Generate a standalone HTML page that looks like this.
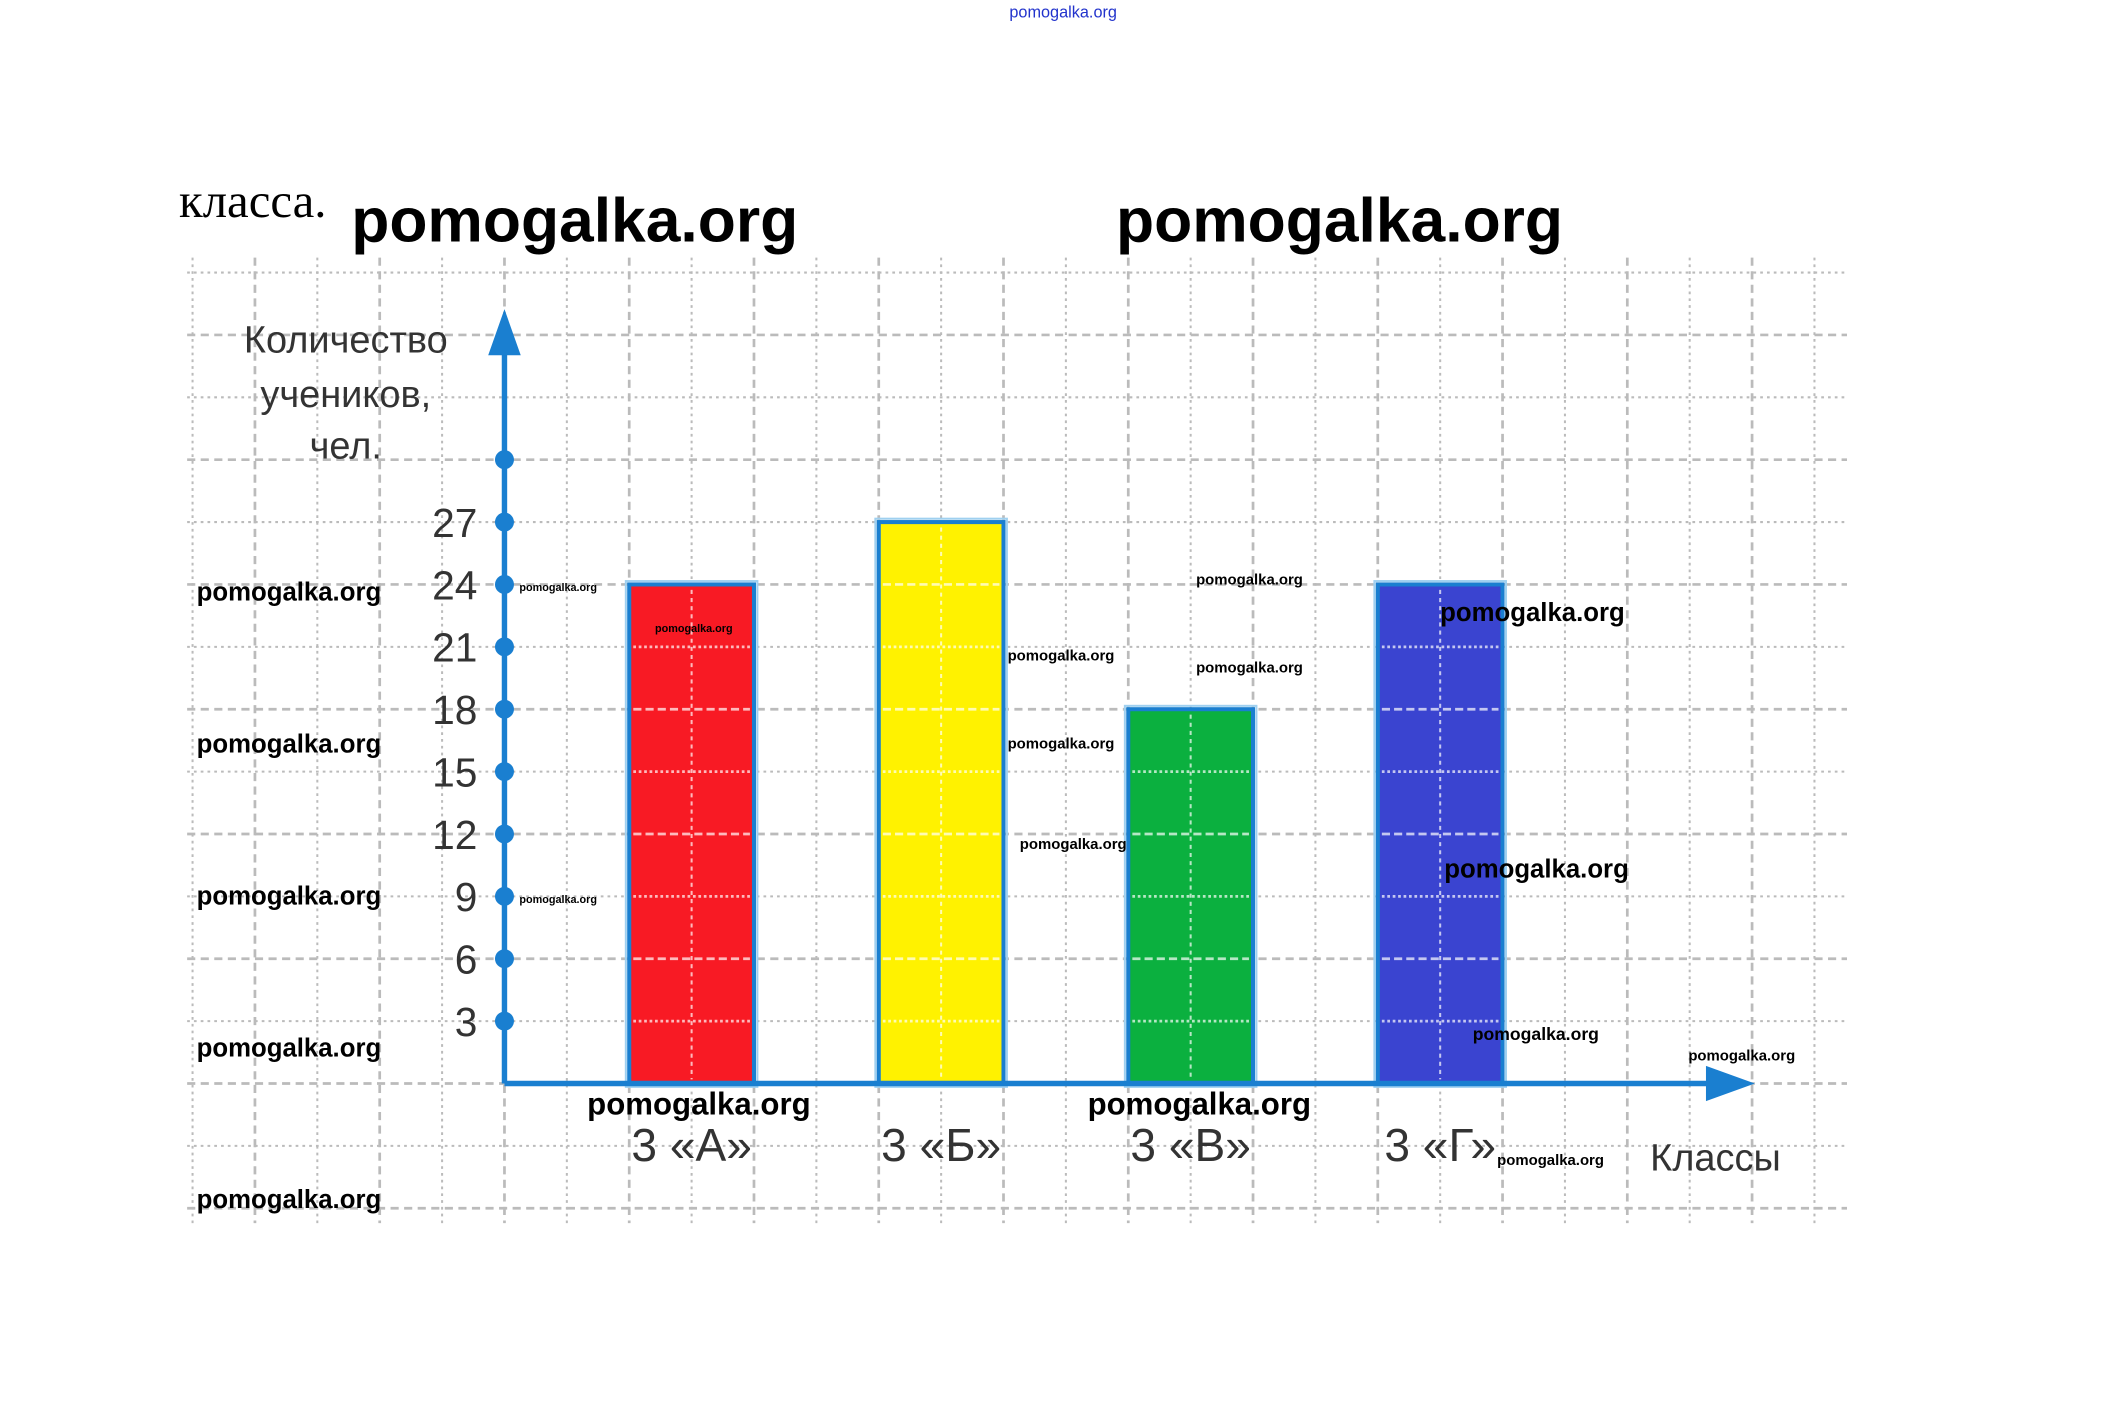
<!DOCTYPE html>
<html><head><meta charset="utf-8"><style>
html,body{margin:0;padding:0;background:#fff;width:2125px;height:1413px;overflow:hidden}
svg{display:block}
.wm{font-family:"Liberation Sans",sans-serif;font-weight:bold;fill:#000}
.lab{font-family:"Liberation Sans","DejaVu Sans",sans-serif;fill:#333}
</style></head><body>
<svg id="chart" width="2125" height="1413" viewBox="0 0 1567 1042" preserveAspectRatio="none" xmlns="http://www.w3.org/2000/svg">
<g id="grid"></g>
<g id="bars"></g>
<g id="axes"></g>
<g id="texts">
<text x="784" y="13" text-anchor="middle" font-size="12" fill="#2233cc" font-family="Liberation Sans,sans-serif">pomogalka.org</text>
<text x="132" y="160" font-size="36" font-family="Liberation Serif,'Noto Serif CJK SC',serif" fill="#000">класса.</text>
<text class="wm" x="259" y="178" font-size="46">pomogalka.org</text>
<text class="wm" x="823" y="178" font-size="46">pomogalka.org</text>
<text class="lab" x="255" y="260" font-size="28" text-anchor="middle">Количество</text>
<text class="lab" x="255" y="300" font-size="28" text-anchor="middle">учеников,</text>
<text class="lab" x="255" y="338" font-size="28" text-anchor="middle">чел.</text>
<text class="lab" x="1265" y="863" font-size="28" text-anchor="middle">Классы</text>
</g>
</svg>
<script>
const categories = ['3 «А»','3 «Б»','3 «В»','3 «Г»'];
const values = [24, 27, 18, 24];
const colors = ['#f81a24','#fff200','#0bb03f','#3a44d0'];
const yTicks = [3,6,9,12,15,18,21,24,27,30];
const yTickLabels = ['3','6','9','12','15','18','21','24','27',''];

const NS='http://www.w3.org/2000/svg';
const X0=372, Y0=799, UNIT=46/3, CELL=46;
function yS(v){return Y0 - v*UNIT;}
function xS(i){return 464 + i*184;}
function mk(tag,attrs,parent){const e=document.createElementNS(NS,tag);for(const k in attrs)e.setAttribute(k,attrs[k]);parent.appendChild(e);return e;}

const grid=document.getElementById('grid');
for(let k=0;k<=26;k++){
  const x=(X0-5*CELL)+k*CELL;
  if(x>1362) break;
  const major=((x-X0)/CELL)%2===0;
  const l=mk('line',{x1:x,y1:190,x2:x,y2:902,stroke:'#bbb','stroke-width':major?2:1.5,'stroke-dasharray':major?'6 4':'2 3'},grid);
  
  
}
for(let k=-2;k<=13;k++){
  const y=Y0-k*CELL;
  const major=k%2===0;
  const l=mk('line',{x1:138,y1:y,x2:1362,y2:y,stroke:'#bbb','stroke-width':major?2:1.5,'stroke-dasharray':major?'6 4':'2 3'},grid);
  
  
}

const bars=document.getElementById('bars');
values.forEach((v,i)=>{
  const x=xS(i), y=yS(v), w=92;
  const r=mk('rect',{x:x,y:y,width:w,height:Y0-y,fill:colors[i],stroke:'#1a7fd0','stroke-width':3},bars);
  
  
  const inner=mk('rect',{x:x-2.5,y:y-2.5,width:w+5,height:Y0-y+5,fill:'none',stroke:'#9fd0f0','stroke-width':1.5},bars);
  
  
  const vl=mk('line',{x1:x+46,y1:y+4,x2:x+46,y2:Y0-3,stroke:'#fff','stroke-opacity':0.7,'stroke-width':1.5,'stroke-dasharray':'3 3'},bars);
  
  
  for(let k=1;k*CELL<Y0-y-4;k++){
    const hl=mk('line',{x1:x+3,y1:Y0-k*CELL,x2:x+w-3,y2:Y0-k*CELL,stroke:'#fff','stroke-opacity':0.7,'stroke-width':2,'stroke-dasharray':k%2===0?'6 3':'2 2'},bars);
    
    
  }
  const t=mk('text',{x:x+46,y:856,'font-size':34,'text-anchor':'middle',class:'lab'},bars);
  t.textContent=categories[i];
  
  
});

const axes=document.getElementById('axes');
const ya=mk('line',{x1:X0,y1:Y0,x2:X0,y2:258,stroke:'#1a7fd0','stroke-width':4},axes);


const yar=mk('polygon',{points:`${X0-12},262 ${X0+12},262 ${X0},228`,fill:'#1a7fd0'},axes);


const xa=mk('line',{x1:X0,y1:Y0,x2:1262,y2:Y0,stroke:'#1a7fd0','stroke-width':4},axes);


const xar=mk('polygon',{points:`1258,786 1258,812 1294,799`,fill:'#1a7fd0'},axes);


yTicks.forEach((v,i)=>{
  const c=mk('circle',{cx:X0,cy:yS(v),r:7,fill:'#1a7fd0'},axes);
  
  
  if(yTickLabels[i]){
    const t=mk('text',{x:352,y:yS(v)+11,'font-size':30,'text-anchor':'end',class:'lab'},axes);
    t.textContent=yTickLabels[i];
    
    
  }
});

const wms=[[145,443,19],[145,555,19],[145,667,19],[145,779,19],[145,891,19],[433,822,23],[802,822,23],[1062,458,19],[1065,647,19],[1086,767,13],[1245,782,11],[1104,859,11],[882,431,11],[882,496,11],[743,487,11],[743,552,11],[752,626,11],[383,436,8],[383,666,8],[483,466,8]];
const tg=document.getElementById('texts');
wms.forEach(w=>{
  const t=mk('text',{x:w[0],y:w[1],'font-size':w[2],class:'wm'},tg);
  t.textContent='pomogalka.org';
  
  
});
</script>
</body></html>
